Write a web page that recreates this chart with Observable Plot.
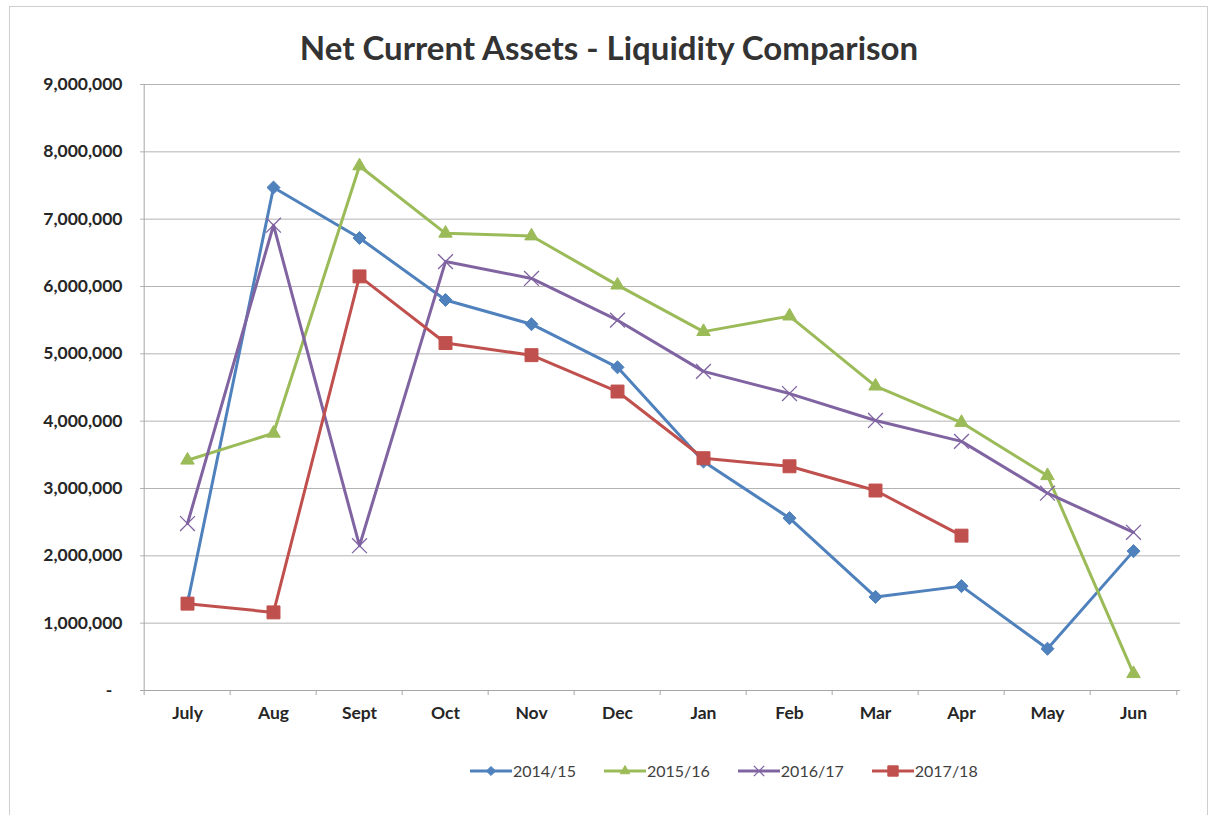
<!DOCTYPE html>
<html>
<head>
<meta charset="utf-8">
<script src="https://cdn.jsdelivr.net/npm/d3@7"></script>
<script src="https://cdn.jsdelivr.net/npm/@observablehq/plot@0.6"></script>
<style>
  html, body { margin: 0; padding: 0; background: #fff; }
  #wrap { position: relative; width: 1212px; height: 815px; overflow: hidden; font-family: Lato, "Open Sans", sans-serif; }
  #frame { position: absolute; left: 9px; top: 6px; width: 1199px; height: 840px; border: 1px solid #cfcfcf; box-sizing: border-box; pointer-events: none; }
  #title { height: 70px; box-sizing: border-box; padding-top: 27px; text-align: center; font-size: 33px; line-height: 40px; font-weight: bold; color: #333; padding-left: 6px; }
  #chart svg { display: block; }
  #legend { display: flex; align-items: center; margin-top: 26px; padding-left: 470px; font-size: 16px; line-height: 20px; color: #404040; }
  #legend .item { display: flex; align-items: center; margin-right: 28px; }
  #legend svg { display: block; margin-right: 1px; }
</style>
</head>
<body>
<div id="wrap">
  <div id="frame"></div>
  <div id="title">Net Current Assets - Liquidity Comparison</div>
  <div id="chart"></div>
  <div id="legend"></div>
</div>
<script>
const months = ["July", "Aug", "Sept", "Oct", "Nov", "Dec", "Jan", "Feb", "Mar", "Apr", "May", "Jun"];
const seriesNames = ["2014/15", "2015/16", "2016/17", "2017/18"];
const values2014_15 = [1300000, 7470000, 6720000, 5800000, 5440000, 4800000, 3400000, 2560000, 1390000, 1550000, 620000, 2070000];
const values2015_16 = [3420000, 3820000, 7790000, 6790000, 6750000, 6020000, 5330000, 5560000, 4520000, 3980000, 3190000, 250000];
const values2016_17 = [2480000, 6910000, 2150000, 6370000, 6120000, 5500000, 4740000, 4410000, 4010000, 3700000, 2930000, 2350000];
const values2017_18 = [1290000, 1160000, 6150000, 5160000, 4980000, 4440000, 3450000, 3330000, 2970000, 2300000, null, null];
const yTicks = [0, 1000000, 2000000, 3000000, 4000000, 5000000, 6000000, 7000000, 8000000, 9000000];
const colors = ["#4F81BD", "#9BBB59", "#8064A2", "#C0504D"];

const allValues = [values2014_15, values2015_16, values2016_17, values2017_18];

// square-style diamond symbol (Excel marker)
const diamondSym = {
  draw(ctx, size) {
    const h = Math.sqrt(size / 2);
    ctx.moveTo(0, -h); ctx.lineTo(h, 0); ctx.lineTo(0, h); ctx.lineTo(-h, 0); ctx.closePath();
  }
};
const markerDefs = [
  {symbol: diamondSym, r: 5.2, fill: colors[0], stroke: colors[0], strokeWidth: 1},
  {symbol: "triangle", r: 5, fill: colors[1], stroke: colors[1], strokeWidth: 1},
  {symbol: "times", r: 6.8, fill: "none", stroke: colors[2], strokeWidth: 1.3},
  {symbol: "square", r: 7.3, fill: colors[3], stroke: colors[3], strokeWidth: 1}
];

const tables = allValues.map((vals, s) =>
  months.map((m, i) => ({month: m, value: vals[i], series: seriesNames[s]})).filter(d => d.value != null)
);

const width = 1212, height = 665;
const mLeft = 140, mRight = 32, mTop = 14, mBottom = 45;
const step = (width - mLeft - mRight) / months.length;

const marks = [
  Plot.gridY(yTicks, {stroke: "#b3b3b3", strokeOpacity: 1, strokeWidth: 1}),
  Plot.ruleX([months[0]], {dx: -step / 2, stroke: "#a6a6a6"}),
  Plot.ruleY([0], {stroke: "#a6a6a6"}),
  Plot.axisX({ticks: months, tickSize: 5, dx: -step / 2, stroke: "#a6a6a6", tickFormat: () => ""}),
  Plot.axisX({ticks: [months[months.length - 1]], tickSize: 5, dx: step / 2, stroke: "#a6a6a6", tickFormat: () => ""}),
  Plot.axisX({ticks: months, tickSize: 0, tickPadding: 16, fill: "#262626"}),
  Plot.axisY({ticks: yTicks, tickSize: 0, tickPadding: 18, fill: "#262626",
    tickFormat: d => d === 0 ? "-\u2007" : d3.format(",")(d)})
];
tables.forEach((t, s) => {
  marks.push(Plot.line(t, {x: "month", y: "value", stroke: colors[s], strokeWidth: 3, strokeLinejoin: "round"}));
  const md = markerDefs[s];
  marks.push(Plot.dot(t, {x: "month", y: "value", symbol: md.symbol, r: md.r, fill: md.fill, stroke: md.stroke, strokeWidth: md.strokeWidth}));
});

const chart = Plot.plot({
  width, height,
  marginLeft: mLeft, marginRight: mRight, marginTop: mTop, marginBottom: mBottom,
  style: {fontFamily: "Lato, 'Open Sans', sans-serif", fontSize: "17.5px", fontWeight: "bold", background: "transparent", overflow: "visible"},
  x: {type: "point", domain: months, padding: 0.5, label: null},
  y: {domain: [0, 9000000], label: null},
  marks
});
document.getElementById("chart").appendChild(chart);

// legend
const legend = document.getElementById("legend");
seriesNames.forEach((name, s) => {
  const item = document.createElement("div");
  item.className = "item";
  const md = markerDefs[s];
  const sw = d3.create("svg").attr("width", 42).attr("height", 16);
  sw.append("line").attr("x1", 0).attr("x2", 42).attr("y1", 8).attr("y2", 8).attr("stroke", colors[s]).attr("stroke-width", 3);
  const sym = typeof md.symbol === "string" ? {triangle: d3.symbolTriangle, times: d3.symbolTimes, square: d3.symbolSquare}[md.symbol] : md.symbol;
  const scale = s === 3 ? 0.8 : 0.7;
  sw.append("path").attr("transform", "translate(21,8)")
    .attr("d", d3.symbol(sym, Math.PI * (md.r * scale) ** 2)())
    .attr("fill", md.fill).attr("stroke", md.stroke).attr("stroke-width", md.strokeWidth);
  item.appendChild(sw.node());
  const label = document.createElement("span");
  label.textContent = name;
  item.appendChild(label);
  legend.appendChild(item);
});
</script>
</body>
</html>
